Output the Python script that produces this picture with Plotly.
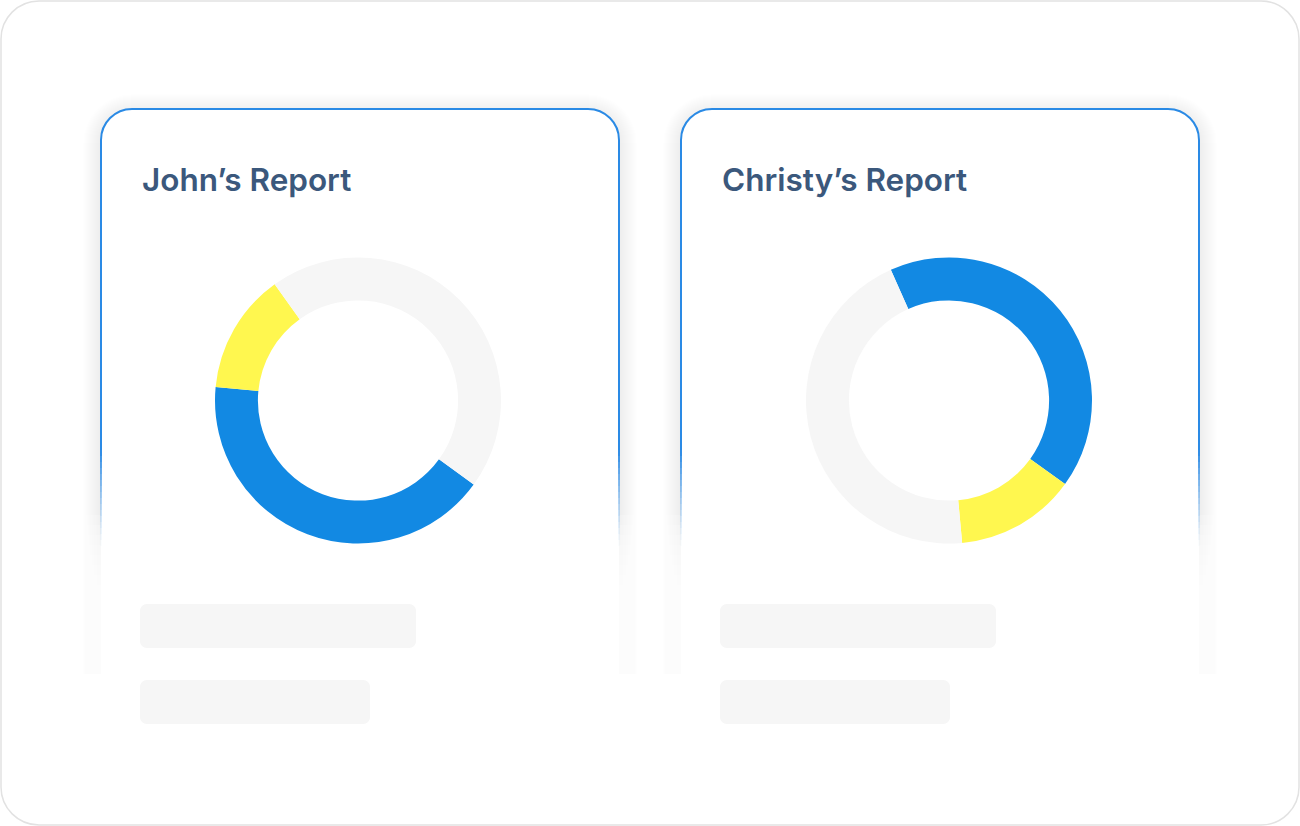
import plotly.graph_objects as go

# ---------------- data ----------------
categories = ["Completed", "In progress", "Remaining"]
john_values = [41.5, 13.6, 44.9]
christy_values = [41.6, 13.6, 44.8]
report_titles = ["John’s Report", "Christy’s Report"]
slice_colors = ["#1289E3", "#FFF74F", "#F6F6F6"]

W, H = 1300, 826
K = 0.5523


def rrect(x0, y0, x1, y1, r):
    k = K * r
    return (f"M {x0+r},{y0} L {x1-r},{y0} C {x1-r+k},{y0} {x1},{y0+r-k} {x1},{y0+r} "
            f"L {x1},{y1-r} C {x1},{y1-r+k} {x1-r+k},{y1} {x1-r},{y1} "
            f"L {x0+r},{y1} C {x0+r-k},{y1} {x0},{y1-r+k} {x0},{y1-r} "
            f"L {x0},{y0+r} C {x0},{y0+r-k} {x0+r-k},{y0} {x0+r},{y0} Z")


def top_open(x0, y0, x1, yb, r):
    k = K * r
    return (f"M {x0},{yb} L {x0},{y0+r} C {x0},{y0+r-k} {x0+r-k},{y0} {x0+r},{y0} "
            f"L {x1-r},{y0} C {x1-r+k},{y0} {x1},{y0+r-k} {x1},{y0+r} L {x1},{yb}")


shapes = []
# outer frame
shapes.append(dict(type="path", path=rrect(1, 1, W - 1, H - 1, 38), xref="x", yref="y",
                   line=dict(color="#E2E2E2", width=1.5), fillcolor="white", layer="below"))

cards = [(101, 109, 619), (681, 109, 1199)]
R = 31
BORDER = "#2A8AE5"
for (x0, y0, x1) in cards:
    # shadow layers
    for e in range(1, 19):
        shapes.append(dict(type="path", path=rrect(x0 - e, y0 - e + 3, x1 + e, 760, R + e),
                           xref="x", yref="y", line=dict(width=0),
                           fillcolor="rgba(0,0,0,0.0038)", layer="below"))
    # card body
    shapes.append(dict(type="path", path=rrect(x0, y0, x1, 760, R), xref="x", yref="y",
                       line=dict(width=0), fillcolor="white", layer="below"))
    # fade overlays (white)
    for i in range(16):
        ys = 515 + 10 * i
        shapes.append(dict(type="rect", x0=x0 - 30, x1=x1 + 30, y0=ys, y1=780,
                           xref="x", yref="y", line=dict(width=0),
                           fillcolor="rgba(255,255,255,0.22)", layer="below"))
    shapes.append(dict(type="rect", x0=x0 - 30, x1=x1 + 30, y0=674, y1=780,
                       xref="x", yref="y", line=dict(width=0),
                       fillcolor="white", layer="below"))
    # border, solid part
    shapes.append(dict(type="path", path=top_open(x0, y0, x1, 450, R), xref="x", yref="y",
                       line=dict(color=BORDER, width=2), fillcolor="rgba(0,0,0,0)",
                       layer="below"))
    # border fading part
    steps = 16
    for i in range(steps):
        ya = 450 + i * 6
        op = max(0.0, 1 - (i + 0.5) / steps) ** 1.3
        for xx in (x0, x1):
            shapes.append(dict(type="line", x0=xx, x1=xx, y0=ya, y1=ya + 6, xref="x", yref="y",
                               line=dict(color=BORDER, width=2), opacity=op, layer="below"))
    # skeleton bars
    bx = x0 + 39
    shapes.append(dict(type="path", path=rrect(bx, 604, bx + 276, 648, 7), xref="x", yref="y",
                       line=dict(width=0), fillcolor="#F6F6F6", layer="below"))
    shapes.append(dict(type="path", path=rrect(bx, 680, bx + 230, 724, 7), xref="x", yref="y",
                       line=dict(width=0), fillcolor="#F6F6F6", layer="below"))

fig = go.Figure()
fig.add_trace(go.Scatter(x=[None], y=[None], showlegend=False, hoverinfo="skip"))

centers = [(358, 400.5), (949, 400.5)]
rotations = [126, 336]
r_out = 143
for (cx, cy), vals, rot in zip(centers, [john_values, christy_values], rotations):
    fig.add_trace(go.Pie(
        labels=categories, values=vals, sort=False, direction="clockwise",
        rotation=rot, hole=0.70, textinfo="none", showlegend=False,
        marker=dict(colors=slice_colors, line=dict(width=0)),
        domain=dict(x=[(cx - r_out) / W, (cx + r_out) / W],
                    y=[1 - (cy + r_out) / H, 1 - (cy - r_out) / H]),
    ))

annotations = []
for (x0, y0, x1), title in zip(cards, report_titles):
    annotations.append(dict(x=x0 + 39, y=179, xref="x", yref="y", text=title,
                            showarrow=False, xanchor="left", yanchor="middle",
                            font=dict(family="Inter", size=31.5, color="#3B587C", weight=600)))

fig.update_layout(
    width=W, height=H, margin=dict(l=0, r=0, t=0, b=0),
    paper_bgcolor="white", plot_bgcolor="rgba(0,0,0,0)",
    xaxis=dict(range=[0, W], visible=False, fixedrange=True),
    yaxis=dict(range=[H, 0], visible=False, fixedrange=True),
    shapes=shapes, annotations=annotations, showlegend=False,
)

fig.write_html("out.html", config={"displayModeBar": False},
               post_script="document.body.style.margin='0px';document.body.style.overflow='hidden';")
